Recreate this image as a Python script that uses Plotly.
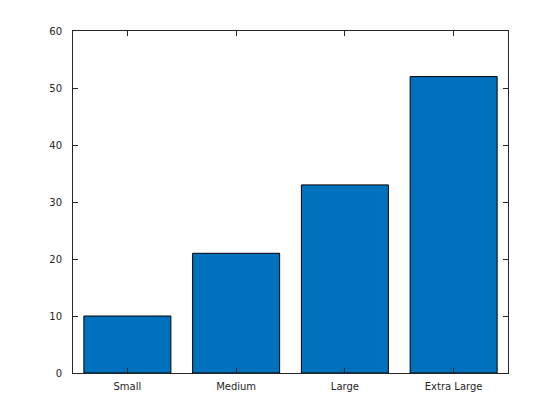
import plotly.graph_objects as go

categories = ["Small", "Medium", "Large", "Extra Large"]
values = [10, 21, 33, 52]
y_ticks = [0, 10, 20, 30, 40, 50, 60]

fig = go.Figure(go.Bar(
    x=categories, y=values, width=0.8,
    marker=dict(color="#0072BD", line=dict(color="black", width=1)),
))

axis_common = dict(
    showline=True, linecolor="#262626", linewidth=1, mirror="ticks",
    ticks="inside", ticklen=5, tickcolor="#262626", showgrid=False, zeroline=False,
    tickfont=dict(family="DejaVu Sans", size=10, color="#262626"),
)
fig.update_xaxes(range=[-0.5, 3.5], ticklabelstandoff=4, **axis_common)
fig.update_yaxes(range=[0, 60], tickvals=y_ticks, ticklabelstandoff=8, **axis_common)
fig.update_layout(
    width=552, height=412,
    margin=dict(l=65, r=52, t=23, b=47),
    plot_bgcolor="white", paper_bgcolor="white",
    showlegend=False, bargap=0.2,
)
fig.write_html("out.html")
